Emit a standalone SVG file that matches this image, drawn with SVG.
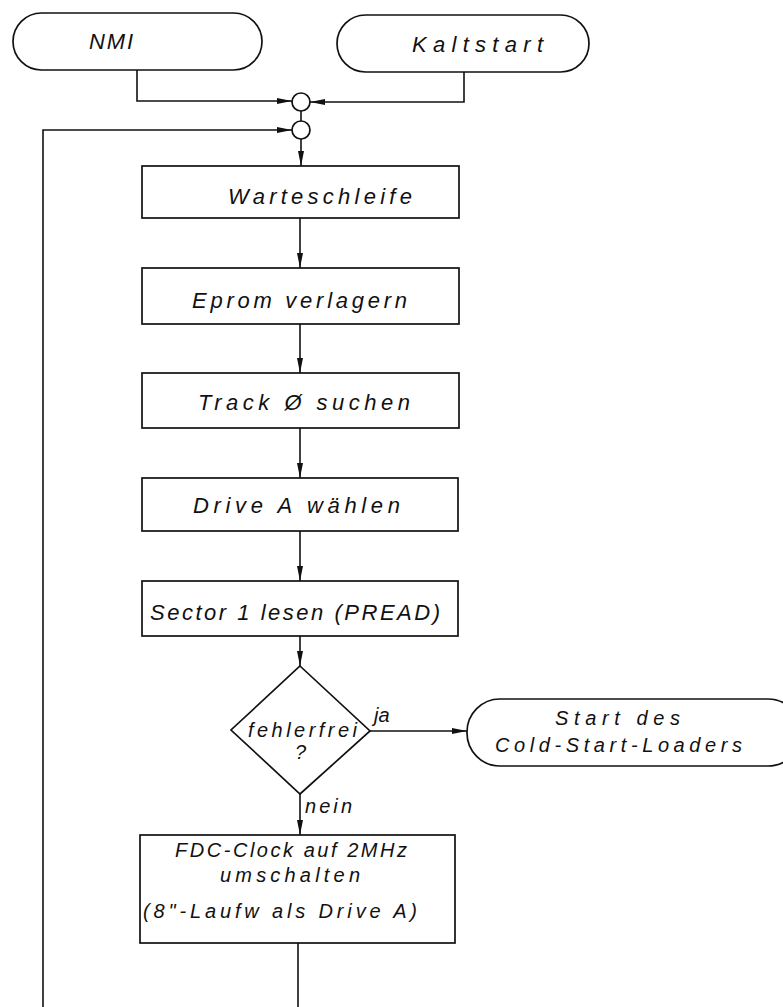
<svg xmlns="http://www.w3.org/2000/svg" width="783" height="1007" viewBox="0 0 783 1007">
  <style>
    .shape { fill: #ffffff; stroke: #111111; stroke-width: 1.7; }
    .wire { fill: none; stroke: #111111; stroke-width: 1.6; }
    .lbl { font-family: "Liberation Sans", Arial, sans-serif; font-style: italic; font-size: 22px; fill: #111111; }
    .sm { font-size: 20px; }
  </style>
  <defs>
    <!-- narrow filled arrowhead used on every flow line -->
    <marker id="arrow" markerUnits="userSpaceOnUse" markerWidth="15" markerHeight="8" refX="15" refY="4" orient="auto">
      <path d="M0,1 L15,4 L0,7 z" fill="#111111"/>
    </marker>
  </defs>

  <rect width="783" height="1007" fill="#ffffff"/>

  <!-- flow lines -->
  <g id="connectors">
    <path class="wire" d="M137,70 V101 H292" marker-end="url(#arrow)"/>
    <path class="wire" d="M464,72 V102 H310" marker-end="url(#arrow)"/>
    <path class="wire" d="M301,111 V121"/>
    <path class="wire" d="M43,1007 V130 H292" marker-end="url(#arrow)"/>
    <path class="wire" d="M301,139 V166" marker-end="url(#arrow)"/>
    <path class="wire" d="M300,218 V268" marker-end="url(#arrow)"/>
    <path class="wire" d="M300,324 V373" marker-end="url(#arrow)"/>
    <path class="wire" d="M300,428 V478" marker-end="url(#arrow)"/>
    <path class="wire" d="M300,531 V581" marker-end="url(#arrow)"/>
    <path class="wire" d="M300,636 V666" marker-end="url(#arrow)"/>
    <path class="wire" d="M300,794 V835" marker-end="url(#arrow)"/>
    <path class="wire" d="M370,731 H467" marker-end="url(#arrow)"/>
    <path class="wire" d="M298,943 V1007"/>
  </g>

  <!-- junction points -->
  <g id="junction1"><circle class="shape" cx="301" cy="102" r="9"/></g>
  <g id="junction2"><circle class="shape" cx="301" cy="130" r="9"/></g>

  <g id="nmi">
    <rect class="shape" x="13" y="13" width="249" height="57" rx="28.5"/>
    <text class="lbl" x="89" y="49" textLength="44" lengthAdjust="spacing">NMI</text>
  </g>

  <g id="kaltstart">
    <rect class="shape" x="337" y="15" width="252" height="57" rx="28.5"/>
    <text class="lbl" x="412" y="52" textLength="131" lengthAdjust="spacing">Kaltstart</text>
  </g>

  <g id="warteschleife">
    <rect class="shape" x="142" y="166" width="317" height="52"/>
    <text class="lbl" x="228" y="204" textLength="184" lengthAdjust="spacing">Warteschleife</text>
  </g>

  <g id="eprom">
    <rect class="shape" x="142" y="268" width="317" height="56"/>
    <text class="lbl" x="192" y="308" textLength="215" lengthAdjust="spacing">Eprom verlagern</text>
  </g>

  <g id="track">
    <rect class="shape" x="142" y="373" width="317" height="55"/>
    <text class="lbl" x="198" y="410" textLength="212" lengthAdjust="spacing">Track Ø  suchen</text>
  </g>

  <g id="drive">
    <rect class="shape" x="142" y="478" width="316" height="53"/>
    <text class="lbl" x="193" y="513" textLength="207" lengthAdjust="spacing">Drive A wählen</text>
  </g>

  <g id="sector">
    <rect class="shape" x="142" y="581" width="316" height="55"/>
    <text class="lbl" x="150" y="620" textLength="290" lengthAdjust="spacing">Sector 1 lesen (PREAD)</text>
  </g>

  <g id="check">
    <polygon class="shape" points="300,666 370,731 300,794 231,730"/>
    <text class="lbl sm" x="248" y="737" textLength="109" lengthAdjust="spacing">fehlerfrei</text>
    <text class="lbl sm" x="295" y="759">?</text>
  </g>

  <g id="branch-labels">
    <text class="lbl sm" x="374" y="722">ja</text>
    <text class="lbl sm" x="305" y="813" textLength="47" lengthAdjust="spacing">nein</text>
  </g>

  <g id="loader">
    <rect class="shape" x="467" y="699" width="334" height="67" rx="33"/>
    <text class="lbl sm" x="555" y="725" textLength="125" lengthAdjust="spacing">Start des</text>
    <text class="lbl sm" x="495" y="752" textLength="247" lengthAdjust="spacing">Cold-Start-Loaders</text>
  </g>

  <g id="fdc">
    <rect class="shape" x="140" y="835" width="315" height="108"/>
    <text class="lbl sm" x="175" y="857" textLength="232" lengthAdjust="spacing">FDC-Clock auf 2MHz</text>
    <text class="lbl sm" x="220" y="882" textLength="140" lengthAdjust="spacing">umschalten</text>
    <text class="lbl sm" x="143" y="918" textLength="274" lengthAdjust="spacing">(8"-Laufw als Drive A)</text>
  </g>
</svg>
